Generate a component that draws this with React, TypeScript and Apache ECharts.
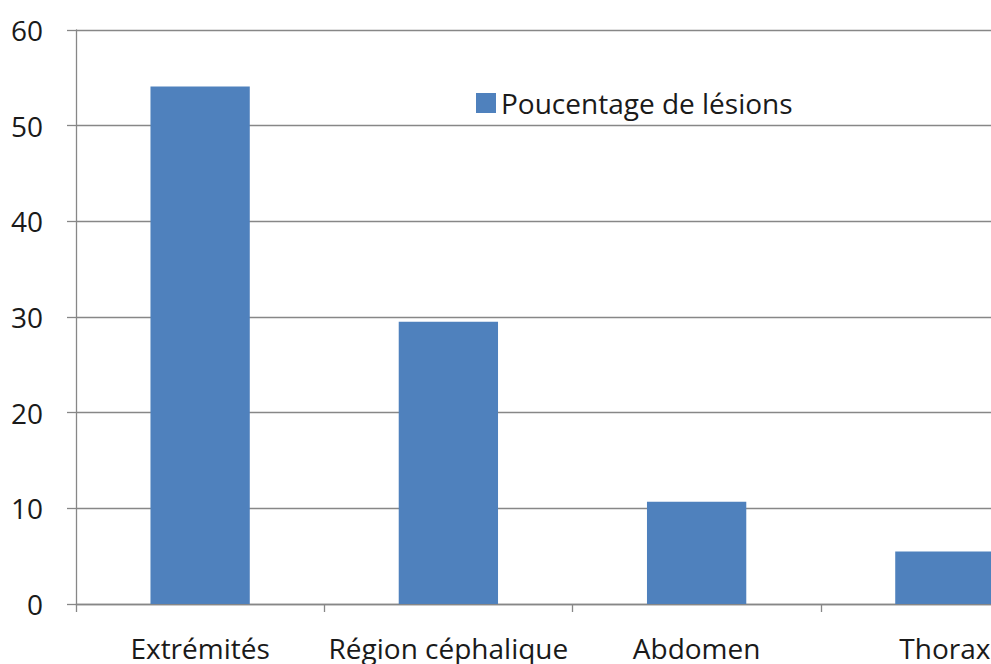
import React, { useEffect, useRef } from "react";
import * as echarts from "echarts";

const categories = ["Extrémités", "Région céphalique", "Abdomen", "Thorax"];
const values = [54.1, 29.5, 10.7, 5.5];
const seriesName = "Poucentage de lésions";
const yTicks = { min: 0, max: 60, interval: 10 };

export default function App() {
  const ref = useRef<HTMLDivElement>(null);
  useEffect(() => {
    if (!ref.current) return;
    const chart = echarts.init(ref.current, null, { renderer: "svg" });
    const font = "'Open Sans', sans-serif";
    chart.setOption({
      animation: false,
      backgroundColor: "#ffffff",
      legend: {
        data: [seriesName],
        left: 471,
        top: 84,
        itemWidth: 20,
        itemHeight: 20,
        itemGap: 8,
        icon: "rect",
        textStyle: { fontFamily: font, fontSize: 28, color: "#1a1a1a" },
      },
      grid: {
        left: 76,
        top: 30,
        width: 993,
        height: 574,
        containLabel: false,
        outerBoundsMode: "none",
      },
      xAxis: {
        type: "category",
        data: categories,
        boundaryGap: true,
        axisLine: { show: true, lineStyle: { color: "#878787", width: 1.3 } },
        axisTick: { show: true, length: 8, lineStyle: { color: "#878787", width: 1.3 } },
        axisLabel: { fontFamily: font, fontSize: 28, color: "#1a1a1a", margin: 30, interval: 0 },
        splitLine: { show: false },
      },
      yAxis: {
        type: "value",
        min: yTicks.min,
        max: yTicks.max,
        interval: yTicks.interval,
        axisLine: { show: true, lineStyle: { color: "#878787", width: 1.3 } },
        axisTick: { show: true, length: 9, lineStyle: { color: "#878787", width: 1.3 } },
        axisLabel: { fontFamily: font, fontSize: 28, color: "#1a1a1a", margin: 33 },
        splitLine: { show: true, lineStyle: { color: "#878787", width: 1.3 } },
      },
      series: [
        {
          name: seriesName,
          type: "bar",
          data: values,
          barWidth: "40%",
          itemStyle: { color: "#4F81BD" },
        },
      ],
    });
    return () => chart.dispose();
  }, []);
  return (
    <div
      ref={ref}
      style={{ position: "fixed", left: 0, top: 0, width: 991, height: 664 }}
    />
  );
}
